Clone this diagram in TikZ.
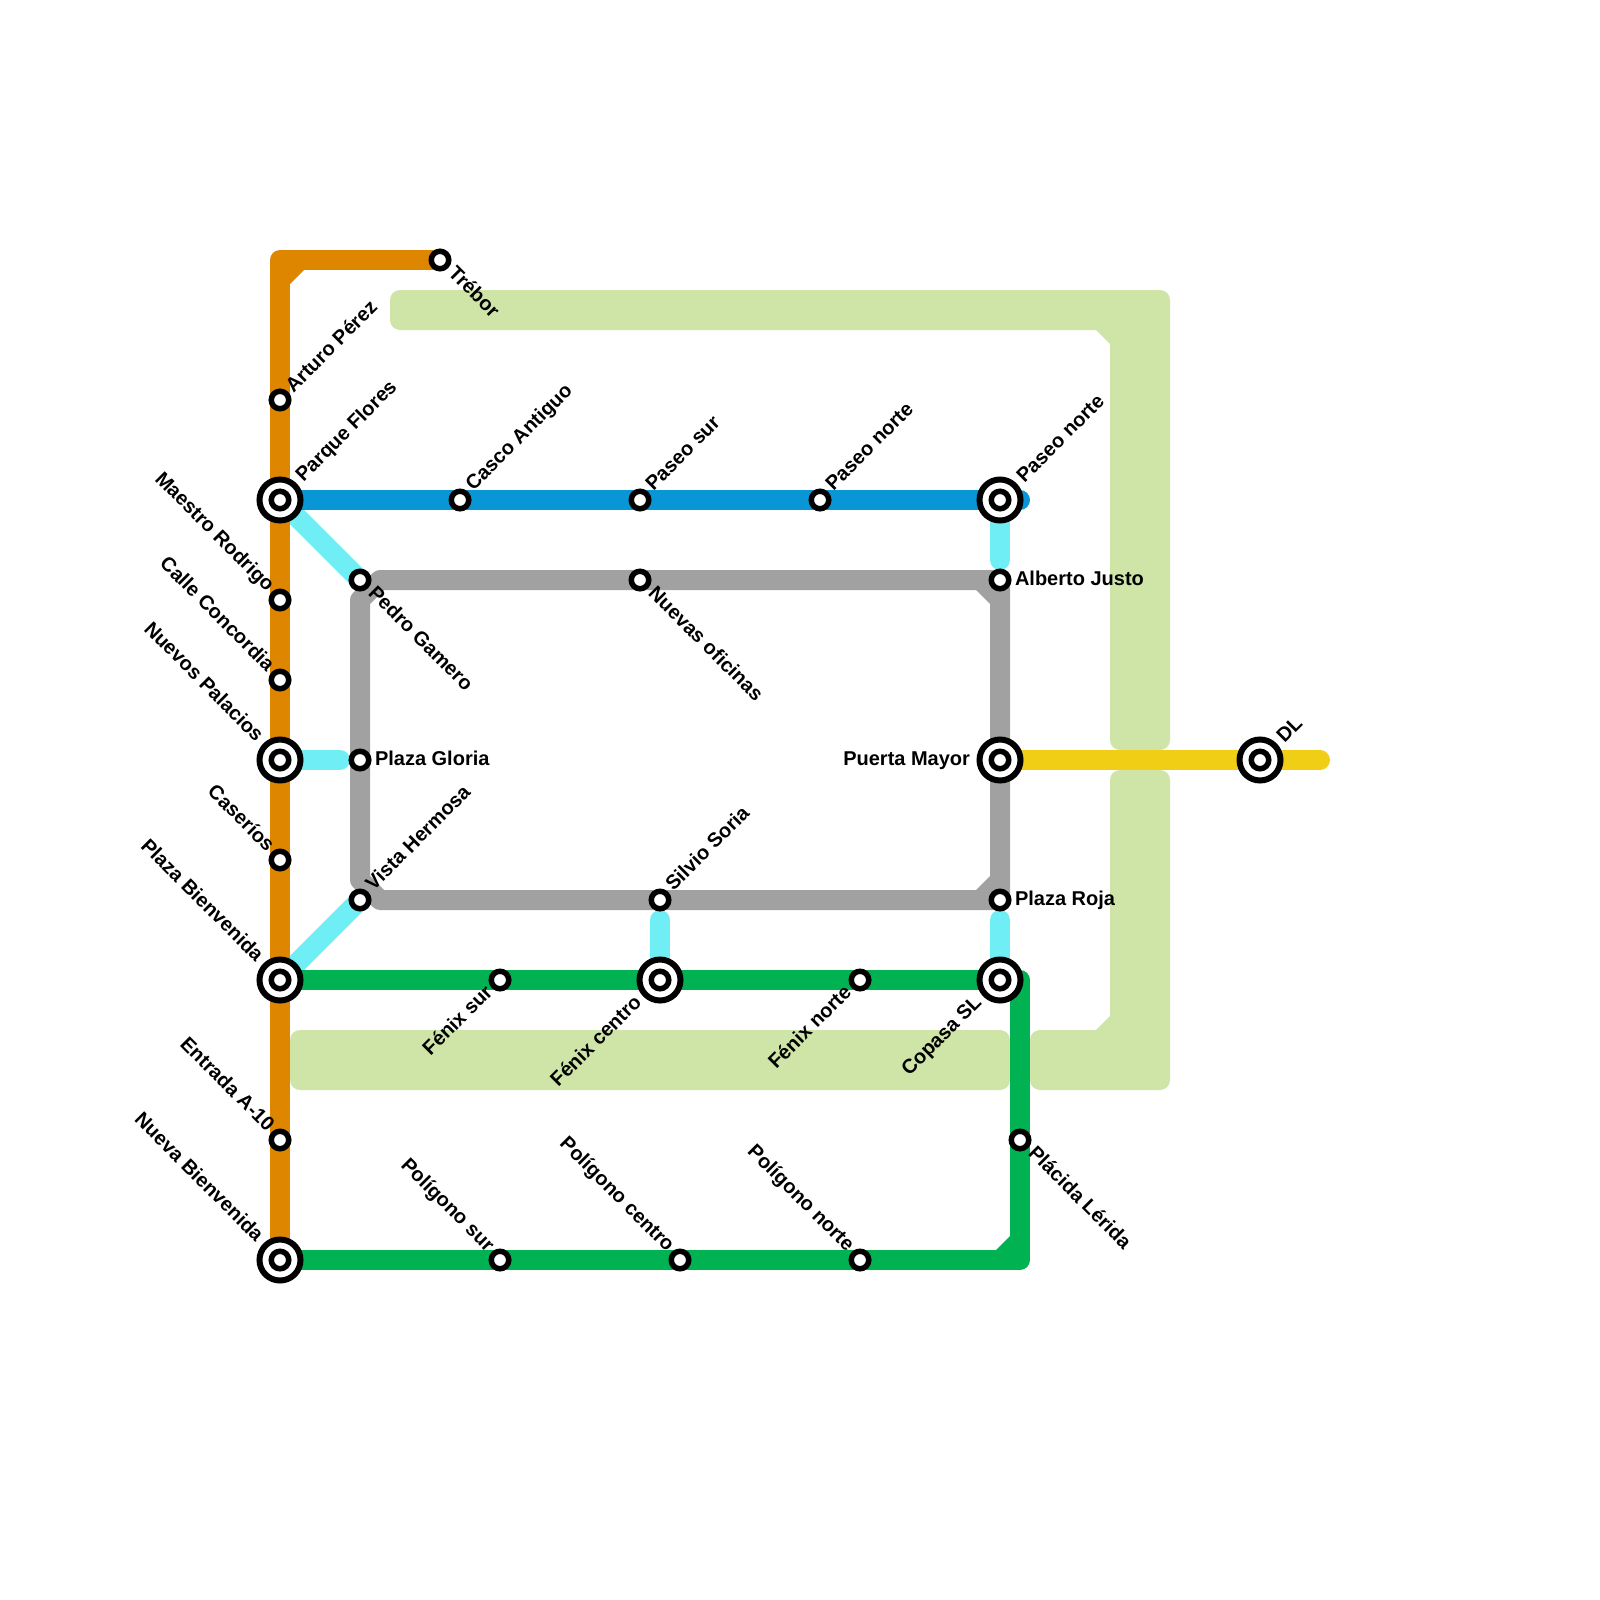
\documentclass[tikz,border=0pt]{standalone}
\usepackage{fontspec}
\setmainfont{Liberation Sans}
\newcommand{\lblfont}{\fontsize{20pt}{22pt}\selectfont\bfseries}
\definecolor{cOrange}{HTML}{DF8600}
\definecolor{cBlue}{HTML}{0896D7}
\definecolor{cCyan}{HTML}{70EEF5}
\definecolor{cGray}{HTML}{A1A1A1}
\definecolor{cGreen}{HTML}{00B251}
\definecolor{cYellow}{HTML}{F0CE15}
\definecolor{cArea}{HTML}{CFE4A7}
\pgfdeclarelayer{lines}
\pgfsetlayers{lines,main}
\tikzset{
  railline/.style={line width=20pt,line cap=round,line join=round},
  smallstn/.style={circle,draw=black,fill=white,line width=5.5pt,minimum size=17.5pt,inner sep=0pt,outer sep=0pt},
  bigstn/.style={circle,draw=black,fill=white,line width=6pt,minimum size=41pt,inner sep=0pt,outer sep=0pt,
    path picture={\draw[line width=5.5pt,fill=white] (path picture bounding box.center) circle (8.75pt);}},
  lbl/.style={font=\lblfont,text=black,inner sep=0pt,outer sep=0pt,text height=14.5pt,text depth=4.5pt},
  lblUR/.style={lbl,rotate=45,anchor=west},
  lblDR/.style={lbl,rotate=-45,anchor=west},
  lblUL/.style={lbl,rotate=-45,anchor=east},
  lblDL/.style={lbl,rotate=45,anchor=east},
  lblE/.style={lbl,anchor=west},
  lblW/.style={lbl,anchor=east},
}
\begin{document}
\begin{tikzpicture}[x=1pt,y=-1pt]
\useasboundingbox (0,0) rectangle (1600,1600);
% stations
\node[bigstn] (ParqueFlores) at (280,500) {};
\node[bigstn] (NuevosPalacios) at (280,760) {};
\node[bigstn] (PlazaBienvenida) at (280,980) {};
\node[bigstn] (NuevaBienvenida) at (280,1260) {};
\node[bigstn] (FenixCentro) at (660,980) {};
\node[bigstn] (PaseoNorteB) at (1000,500) {};
\node[bigstn] (PuertaMayor) at (1000,760) {};
\node[bigstn] (CopasaSL) at (1000,980) {};
\node[bigstn] (DL) at (1260,760) {};
\node[smallstn] (ArturoPerez) at (280,400) {};
\node[smallstn] (MaestroRodrigo) at (280,600) {};
\node[smallstn] (CalleConcordia) at (280,680) {};
\node[smallstn] (Caserios) at (280,860) {};
\node[smallstn] (EntradaA) at (280,1140) {};
\node[smallstn] (Trebor) at (440,260) {};
\node[smallstn] (PedroGamero) at (360,580) {};
\node[smallstn] (PlazaGloria) at (360,760) {};
\node[smallstn] (VistaHermosa) at (360,900) {};
\node[smallstn] (CascoAntiguo) at (460,500) {};
\node[smallstn] (PaseoSur) at (640,500) {};
\node[smallstn] (PaseoNorteA) at (820,500) {};
\node[smallstn] (NuevasOficinas) at (640,580) {};
\node[smallstn] (AlbertoJusto) at (1000,580) {};
\node[smallstn] (SilvioSoria) at (660,900) {};
\node[smallstn] (PlazaRoja) at (1000,900) {};
\node[smallstn] (FenixSur) at (500,980) {};
\node[smallstn] (FenixNorte) at (860,980) {};
\node[smallstn] (PlacidaLerida) at (1020,1140) {};
\node[smallstn] (PoligonoSur) at (500,1260) {};
\node[smallstn] (PoligonoCentro) at (680,1260) {};
\node[smallstn] (PoligonoNorte) at (860,1260) {};
% free line ends and corners
\coordinate (orangeCorner) at (280,260);
\coordinate (blueEnd) at (1020,500);
\coordinate (yellowEnd) at (1320,760);
\coordinate (greenTop) at (1020,980);
\coordinate (greenBottom) at (1020,1260);
\coordinate (cyanGloria) at (340,760);
\coordinate (cyanJusto) at (1000,560);
\coordinate (cyanRoja) at (1000,920);
\coordinate (cyanSoria) at (660,920);
\coordinate (grayA) at (380,580);
\coordinate (grayB) at (360,600);
\coordinate (grayC) at (360,880);
\coordinate (grayD) at (380,900);
\begin{pgfonlayer}{lines}
  % pale areas
  \fill[cArea,rounded corners=10pt] (390,290) -- (1170,290) -- (1170,750) -- (1110,750) [sharp corners] -- (1110,344) -- (1096,330) [rounded corners=10pt] -- (390,330) -- cycle;
  \fill[cArea,rounded corners=10pt] (1110,770) -- (1170,770) -- (1170,1090) -- (1030,1090) -- (1030,1030) [sharp corners] -- (1096,1030) -- (1110,1016) [rounded corners=10pt] -- cycle;
  \fill[cArea,rounded corners=10pt] (290,1030) rectangle (1010,1090);
  % cyan links
  \draw[railline,cCyan] (ParqueFlores.center) -- (PedroGamero.center);
  \draw[railline,cCyan] (NuevosPalacios.center) -- (cyanGloria);
  \draw[railline,cCyan] (PlazaBienvenida.center) -- (VistaHermosa.center);
  \draw[railline,cCyan] (PaseoNorteB.center) -- (cyanJusto);
  \draw[railline,cCyan] (CopasaSL.center) -- (cyanRoja);
  \draw[railline,cCyan] (FenixCentro.center) -- (cyanSoria);
  % gray loop
  \draw[railline,cGray] (grayA) -- (grayB) -- (grayC) -- (grayD) -- (PlazaRoja.center) -- (AlbertoJusto.center) -- cycle;
  \fill[cGray] (990,590) -- (976,590) -- (990,604) -- cycle;
  \fill[cGray] (990,890) -- (976,890) -- (990,876) -- cycle;
  % blue
  \draw[railline,cBlue] (ParqueFlores.center) -- (blueEnd);
  % yellow
  \draw[railline,cYellow] (PuertaMayor.center) -- (yellowEnd);
  % green
  \draw[railline,cGreen] (PlazaBienvenida.center) -- (greenTop) -- (greenBottom) -- (NuevaBienvenida.center);
  \fill[cGreen] (1010,1250) -- (1010,1236) -- (996,1250) -- cycle;
  % orange
  \draw[railline,cOrange] (NuevaBienvenida.center) -- (orangeCorner) -- (Trebor.center);
  \fill[cOrange] (290,270) -- (290,284) -- (304,270) -- cycle;
\end{pgfonlayer}
% labels
\node[lblUR] (tArturo) at ([shift={(10,-10)}]ArturoPerez.center) {Arturo Pérez};
\node[lblUR] (tParque) at ([shift={(20,-21)}]ParqueFlores.center) {Parque Flores};
\node[lblUR] (tCasco) at ([shift={(10,-12)}]CascoAntiguo.center) {Casco Antiguo};
\node[lblUR] (tPaseoSur) at ([shift={(10,-12)}]PaseoSur.center) {Paseo sur};
\node[lblUR] (tPaseoNorteA) at ([shift={(10,-12)}]PaseoNorteA.center) {Paseo norte};
\node[lblUR] (tPaseoNorteB) at ([shift={(21,-20)}]PaseoNorteB.center) {Paseo norte};
\node[lblUR] (tVista) at ([shift={(10,-12)}]VistaHermosa.center) {Vista Hermosa};
\node[lblUR] (tSilvio) at ([shift={(10,-12)}]SilvioSoria.center) {Silvio Soria};
\node[lblUR] (tDL) at ([shift={(21,-20)}]DL.center) {DL};
\node[lblDR] (tTrebor) at ([shift={(11,11)}]Trebor.center) {Trébor};
\node[lblDR] (tPedro) at ([shift={(11,11)}]PedroGamero.center) {Pedro Gamero};
\node[lblDR] (tNuevas) at ([shift={(11,11)}]NuevasOficinas.center) {Nuevas oficinas};
\node[lblDR] (tPlacida) at ([shift={(11,11)}]PlacidaLerida.center) {Plácida Lérida};
\node[lblUL] (tMaestro) at ([shift={(-10,-11)}]MaestroRodrigo.center) {Maestro Rodrigo};
\node[lblUL] (tCalle) at ([shift={(-10,-11)}]CalleConcordia.center) {Calle Concordia};
\node[lblUL] (tNuevos) at ([shift={(-21,-21)}]NuevosPalacios.center) {Nuevos Palacios};
\node[lblUL] (tCaserios) at ([shift={(-10,-11)}]Caserios.center) {Caseríos};
\node[lblUL] (tPlazaB) at ([shift={(-21,-21)}]PlazaBienvenida.center) {Plaza Bienvenida};
\node[lblUL] (tEntrada) at ([shift={(-10,-11)}]EntradaA.center) {Entrada A-10};
\node[lblUL] (tNueva) at ([shift={(-21,-21)}]NuevaBienvenida.center) {Nueva Bienvenida};
\node[lblUL] (tPolSur) at ([shift={(-10,-11)}]PoligonoSur.center) {Polígono sur};
\node[lblUL] (tPolCentro) at ([shift={(-10,-11)}]PoligonoCentro.center) {Polígono centro};
\node[lblUL] (tPolNorte) at ([shift={(-10,-11)}]PoligonoNorte.center) {Polígono norte};
\node[lblDL] (tFenixSur) at ([shift={(-10,10)}]FenixSur.center) {Fénix sur};
\node[lblDL] (tFenixCentro) at ([shift={(-21,20)}]FenixCentro.center) {Fénix centro};
\node[lblDL] (tFenixNorte) at ([shift={(-11,10)}]FenixNorte.center) {Fénix norte};
\node[lblDL] (tCopasa) at ([shift={(-21,20)}]CopasaSL.center) {Copasa SL};
\node[lblE] (tAlberto) at ([shift={(15,0)}]AlbertoJusto.center) {Alberto Justo};
\node[lblE] (tRoja) at ([shift={(15,0)}]PlazaRoja.center) {Plaza Roja};
\node[lblE] (tGloria) at ([shift={(15,0)}]PlazaGloria.center) {Plaza Gloria};
\node[lblW] (tPuerta) at ([shift={(-30,0)}]PuertaMayor.center) {Puerta Mayor};
\end{tikzpicture}
\end{document}
